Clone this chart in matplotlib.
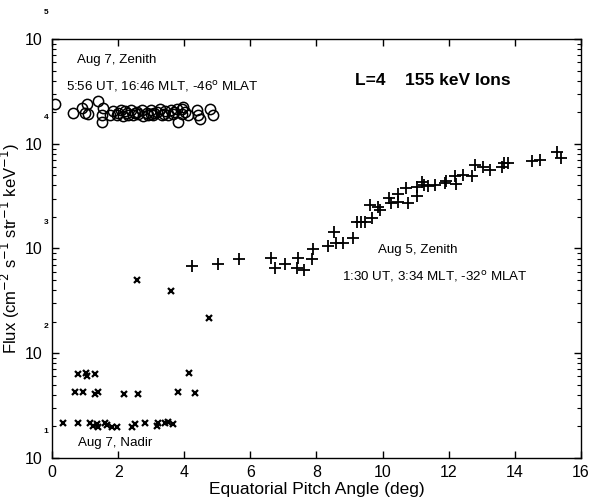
import numpy as np
import matplotlib
matplotlib.use("Agg")
import matplotlib.pyplot as plt
from matplotlib.ticker import FixedLocator, NullFormatter
import matplotlib.transforms as mtransforms

plt.rcParams["font.family"] = ["Liberation Sans", "DejaVu Sans"]

# ---------------------------------------------------------------------------
# Data
# ---------------------------------------------------------------------------

# Aug 7, Zenith (open circles)
zen7_angle = [0.09, 0.64, 0.92, 1.05, 1.10, 1.00, 1.40, 1.55, 1.50, 1.52,
              1.75, 1.86, 1.96, 2.09, 2.16, 2.26, 2.39, 2.46, 2.56, 2.71,
              2.76, 2.86, 2.99, 3.07, 3.17, 3.27, 3.32, 3.42, 3.52, 3.60,
              3.67, 3.77, 3.82, 3.92, 3.94, 4.02, 4.12, 4.38, 4.43, 4.78,
              4.88, 2.00, 2.30, 2.60, 2.90, 3.10, 3.40, 3.70, 2.20, 2.50,
              3.00, 4.48, 3.96]
zen7_flux = [24100, 19800, 22100, 24100, 19400, 19700, 25400, 21900, 18900, 16100,
             18900, 20400, 18700, 20900, 18400, 19800, 20900, 18700, 20100, 20900,
             18400, 19800, 20900, 18700, 20100, 21300, 18700, 20400, 18700, 20900,
             19400, 21300, 16100, 21600, 19400, 20100, 18700, 20900, 18900, 21600,
             18900, 19500, 19000, 19200, 19000, 19600, 19100, 20000, 20500, 19500,
             19300, 17200, 22400]

# Aug 5, Zenith (plus)
zen5_angle = [4.23, 5.01, 5.66, 6.62, 6.75, 7.05, 7.40, 7.45, 7.62, 7.86,
              7.90, 8.36, 8.59, 8.79, 9.10, 8.53, 9.22, 9.35, 9.47, 9.67,
              9.62, 9.87, 9.92, 10.20, 10.46, 10.24, 10.47, 10.78, 10.71, 11.05,
              11.03, 11.18, 11.26, 11.36, 11.58, 11.89, 11.92, 12.22, 12.19, 12.44,
              12.70, 12.79, 13.05, 13.25, 13.62, 13.67, 13.80, 14.51, 14.76, 15.27,
              15.40]
zen5_flux = [681, 706, 789, 817, 656, 706, 647, 805, 624, 789,
             982, 1056, 1136, 1136, 1250, 1428, 1778, 1778, 1803, 1968,
             2600, 2508, 2333, 3055, 3289, 2735, 2761, 2698, 3758, 3894,
             3172, 4349, 4039, 3951, 4039, 4190, 4436, 4130, 4955, 5035,
             4922, 6266, 5953, 5610, 5953, 6500, 6500, 6840, 7000, 8340,
             7310]

# Aug 7, Nadir (crosses)
nad7_angle = [2.56, 3.60, 4.76, 0.80, 1.03, 1.07, 1.30, 4.15, 0.70, 0.93,
              1.40, 1.30, 2.19, 2.59, 3.80, 4.33,
              0.34, 0.78, 1.15, 1.23, 1.35, 1.40, 1.60, 1.65, 1.81, 1.96,
              2.41, 2.51, 2.81, 3.17, 3.22, 3.42, 3.52, 3.65]
nad7_flux = [500, 393, 218, 63, 64.4, 61, 63, 65, 43, 43,
             43, 40.8, 40.8, 40.8, 43, 42,
             21.4, 21.4, 21.4, 20.2, 21.0, 19.9, 21.8, 20.5, 19.9, 19.9,
             19.9, 21.0, 21.4, 20.4, 21.4, 21.4, 22.0, 21.0]

x_ticks = [0, 2, 4, 6, 8, 10, 12, 14, 16]
y_decades = [1, 2, 3, 4, 5]

# ---------------------------------------------------------------------------
# Plot
# ---------------------------------------------------------------------------

fig = plt.figure(figsize=(5.91, 5.01), dpi=100)
ax = fig.add_axes([0.088, 0.0858, 0.895, 0.8364])

ax.plot(zen7_angle, zen7_flux, ls="none", marker="o", ms=7.4,
        mfc="none", mec="black", mew=1.1)
ax.plot(zen5_angle, zen5_flux, ls="none", marker="+", ms=8.5,
        color="black", mew=1.3)
ax.plot(nad7_angle, nad7_flux, ls="none", marker="x", ms=4.8,
        color="black", mew=1.6)

ax.set_yscale("log")
ax.set_xlim(0, 16)
ax.set_ylim(10, 1e5)

ax.xaxis.set_major_locator(FixedLocator(x_ticks))
ax.set_xticklabels([str(t) for t in x_ticks])
ax.yaxis.set_major_locator(FixedLocator([10.0 ** d for d in y_decades]))
ax.yaxis.set_minor_locator(FixedLocator(
    [m * 10.0 ** d for d in y_decades[:-1] for m in range(2, 10)]))
ax.yaxis.set_minor_formatter(NullFormatter())
ax.set_yticklabels(["10"] * len(y_decades))

ax.tick_params(axis="both", which="major", direction="in", length=5,
               width=1, top=True, right=True, labelsize=11.5, pad=5)
ax.tick_params(axis="y", which="minor", direction="in", length=3,
               width=0.8, right=True)
ax.tick_params(axis="y", which="major", pad=7)

# exponents of the y labels sit well above the "10"
trans = mtransforms.blended_transform_factory(ax.transAxes, ax.transData)
for d in y_decades:
    t = mtransforms.offset_copy(trans, fig=fig, x=0, y=19, units="points")
    ax.text(-0.016, 10.0 ** d, str(d), transform=t, fontsize=6,
            fontweight="bold", ha="left", va="center")

for sp in ax.spines.values():
    sp.set_linewidth(1.0)

ax.text(0.047, 0.95, "Aug 7, Zenith", transform=ax.transAxes,
        fontsize=9.6, ha="left", va="center")
ax.text(0.026, 0.886, "5:56 UT, 16:46 MLT, -46$^{\\mathrm{o}}$ MLAT",
        transform=ax.transAxes, fontsize=9.6, ha="left", va="center")
ax.text(0.573, 0.9, "L=4    155 keV Ions", transform=ax.transAxes,
        fontsize=12.5, fontweight="bold", ha="left", va="center")
ax.text(0.616, 0.496, "Aug 5, Zenith", transform=ax.transAxes,
        fontsize=9.6, ha="left", va="center")
ax.text(0.548, 0.434, "1:30 UT, 3:34 MLT, -32$^{\\mathrm{o}}$ MLAT",
        transform=ax.transAxes, fontsize=9.6, ha="left", va="center")
ax.text(0.049, 0.036, "Aug 7, Nadir", transform=ax.transAxes,
        fontsize=9.6, ha="left", va="center")

ax.set_xlabel("Equatorial Pitch Angle (deg)", fontsize=12.5)
ax.xaxis.set_label_coords(0.5, -0.058)
ax.set_ylabel("Flux (cm$^{-2}$ s$^{-1}$ str$^{-1}$ keV$^{-1}$)",
              fontsize=12)
ax.yaxis.set_label_coords(-0.056, 0.5)

fig.savefig("out.png", dpi=100)
